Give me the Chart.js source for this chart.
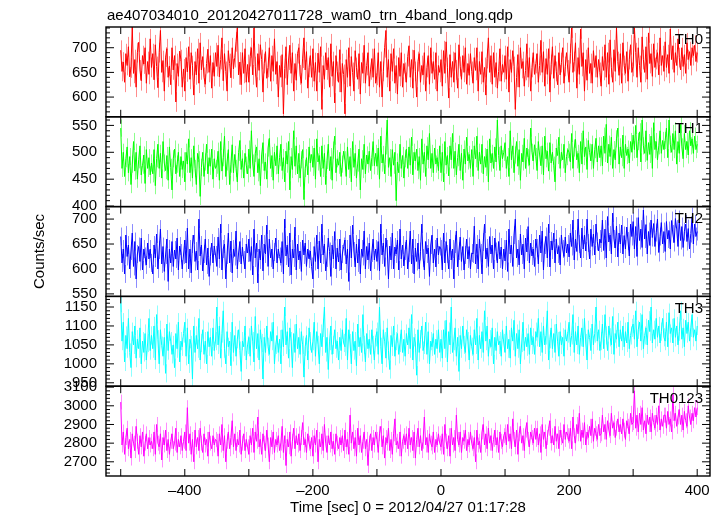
<!DOCTYPE html>
<html>
<head>
<meta charset="utf-8">
<script src="https://cdn.jsdelivr.net/npm/chart.js@4.4.1/dist/chart.umd.min.js"></script>
<style>
html, body { margin: 0; padding: 0; background: #fff; }
#wrap { width: 720px; height: 516px; }
</style>
</head>
<body>
<div id="wrap"><canvas id="lc" width="720" height="516"></canvas></div>
<script>
var titleText = 'ae407034010_20120427011728_wam0_trn_4band_long.qdp';
var xLabel = 'Time [sec] 0 = 2012/04/27 01:17:28';
var yLabel = 'Counts/sec';
var bandNames = ['TH0', 'TH1', 'TH2', 'TH3', 'TH0123'];
var bandColors = ['255,0,0', '0,255,0', '0,0,255', '0,255,255', '255,0,255'];
var bandErrs = [20, 16, 18, 24, 40];
var tStart = -500, tStop = 400;
var xMin = -523, xMax = 420;
var xTickStep = 200;
var yMins = [560, 399, 545, 941, 2624];
var yMaxs = [742, 566, 725, 1178, 3105];
var yMajor = [50, 50, 50, 50, 100];
var yMinor = [10, 10, 10, 10, 20];

// count rates, 2 s bins from -500 to 400 s (one row = 50 s)
var th0 = [
  695,652,671,630,688,664,702,641,659,742,648,676,620,690,711,655,633,684,667,700,628,672,646,718,660,
  688,635,706,662,619,690,735,650,674,612,681,698,640,663,625,700,655,684,590,668,642,693,676,620,657,
  612,680,651,702,636,690,664,604,672,645,698,628,710,655,682,640,626,668,697,650,684,618,670,642,690,
  662,705,641,676,720,633,688,652,612,694,668,639,700,657,680,712,740,645,671,625,690,648,698,630,666,
  630,682,700,645,740,662,620,688,654,706,676,610,668,692,638,660,700,632,684,652,718,646,672,600,664,
  640,686,566,658,702,625,675,705,648,690,612,668,634,688,700,645,628,679,720,655,692,618,660,684,640,
  698,632,670,612,689,650,702,575,664,636,690,655,680,620,708,642,672,588,684,652,630,696,610,668,646,
  566,676,640,700,622,682,650,612,694,660,636,688,606,670,648,705,628,664,690,622,655,678,640,698,628,
  644,690,620,672,600,652,700,735,640,676,612,688,652,698,628,664,606,680,642,690,620,668,650,630,682,
  704,640,676,618,695,652,600,672,688,630,664,645,690,612,660,684,626,700,648,672,636,690,612,664,650,
  676,622,694,648,712,660,598,686,640,672,630,690,655,618,706,662,636,684,650,700,626,668,644,688,652,
  628,680,654,700,612,672,646,692,630,660,604,678,720,650,684,626,690,640,670,618,652,698,632,666,650,
  684,636,702,610,676,650,694,662,575,640,686,620,700,658,672,622,654,708,640,680,612,660,690,646,668,
  688,630,664,715,650,692,622,678,646,698,610,666,702,638,684,652,625,690,645,670,700,628,662,690,655,
  630,688,740,650,672,710,618,680,646,738,662,690,612,676,634,700,648,668,628,694,660,684,640,676,650,
  622,682,654,706,640,690,626,716,660,630,696,652,740,672,644,688,628,710,664,648,692,632,676,706,650,
  662,740,690,640,700,664,630,722,676,650,702,636,730,668,688,642,708,660,676,690,645,720,664,684,652,
  712,660,686,648,738,676,704,650,690,664,718,680,655,700,662,686,648,710,676,692,664,700,684,705,672,
  690
];
var th1 = [
  545,470,500,455,488,510,462,492,440,478,520,465,500,450,486,512,458,476,495,442,505,470,490,458,480,
  460,505,438,488,515,470,498,452,520,480,466,494,448,510,472,430,488,506,460,478,500,455,492,468,484,
  445,500,478,525,462,490,452,512,470,440,498,486,418,472,500,455,482,515,460,490,474,506,450,488,470,
  476,502,448,520,465,490,530,455,482,505,440,478,514,462,496,470,445,500,522,468,488,452,498,476,460,
  506,470,540,480,455,498,510,462,488,438,495,518,466,482,450,508,526,470,494,448,500,475,512,460,490,
  515,466,490,445,502,478,520,430,492,468,540,474,512,460,498,452,486,505,412,470,490,458,510,480,496,
  472,508,450,525,482,494,455,512,470,498,440,485,515,466,492,448,504,530,462,488,476,500,455,478,502,
  486,455,510,468,492,445,520,472,498,452,480,506,430,488,468,515,460,495,478,502,466,490,520,475,498,
  474,508,450,530,480,496,460,512,560,472,490,455,505,476,500,410,482,462,515,470,494,452,488,506,470,
  510,476,528,458,500,484,506,466,492,448,525,478,500,455,512,486,535,470,498,462,508,478,490,466,512,
  462,500,445,520,476,494,456,512,486,535,470,502,458,490,515,466,498,448,506,478,528,484,496,470,505,
  455,512,488,530,466,500,478,515,460,492,472,506,445,525,480,498,470,510,482,560,494,466,512,488,500,
  518,470,492,455,540,486,512,462,495,520,474,505,448,498,482,526,470,508,490,476,545,500,484,514,492,
  466,520,495,475,512,458,530,488,502,465,518,480,500,476,445,508,494,528,470,500,486,515,462,492,505,
  500,482,535,470,508,524,486,498,462,520,478,540,492,510,468,522,500,484,515,470,505,526,482,512,490,
  512,475,530,498,552,480,515,492,528,470,505,486,525,545,478,510,490,532,470,515,494,506,480,520,500,
  532,505,550,490,520,538,482,560,512,498,540,485,518,496,530,470,555,505,520,486,512,540,498,522,505,
  522,545,490,560,515,500,535,505,540,478,520,498,552,510,488,535,505,520,495,540,512,525,498,530,505,
  515
];
var th2 = [
  665,612,640,590,668,625,648,600,636,672,605,655,580,630,645,615,662,598,640,625,608,652,620,640,612,
  590,648,622,670,600,638,680,610,645,595,628,660,575,640,612,655,605,638,620,662,598,646,632,600,628,
  658,612,682,600,640,592,650,668,615,636,598,700,626,648,596,630,660,608,642,585,625,652,612,646,628,
  605,664,620,690,598,640,650,580,628,672,612,656,592,640,625,676,600,632,655,610,644,618,600,650,632,
  660,615,645,588,680,622,652,572,640,618,668,596,650,630,688,605,660,622,640,600,634,662,612,640,625,
  612,655,590,700,626,648,604,672,588,640,622,684,598,650,618,636,595,658,628,652,605,640,620,636,605,
  580,645,615,668,600,656,612,690,628,650,596,622,662,635,585,648,620,675,600,642,614,660,598,630,645,
  658,610,640,575,668,622,688,636,604,650,612,660,590,640,625,676,600,645,618,652,596,632,660,618,640,
  615,655,596,690,628,652,605,662,640,580,646,618,672,600,644,630,658,598,680,620,648,606,636,658,600,
  632,676,610,660,590,642,615,652,600,635,690,622,598,655,630,642,585,648,668,612,640,604,662,628,645,
  640,598,672,612,655,630,600,660,618,640,580,650,676,604,636,664,615,645,598,628,660,620,645,600,632,
  630,686,610,650,600,660,632,590,654,690,620,642,605,665,630,648,600,662,635,612,655,620,644,600,640,
  616,658,595,680,630,648,605,668,700,622,640,608,670,628,650,600,662,634,685,612,652,626,640,605,660,
  642,610,668,632,676,598,648,665,622,690,604,656,638,672,612,660,630,645,608,668,640,625,664,632,650,
  624,672,645,698,618,660,635,700,650,622,682,640,668,636,700,652,620,680,645,670,628,690,655,636,660,
  652,698,637,680,622,705,654,668,630,712,660,642,686,624,672,650,688,630,667,640,684,656,626,690,665,
  695,640,685,625,703,657,680,643,718,660,689,630,675,647,698,663,691,645,673,700,633,665,693,650,675,
  635,695,660,677,640,697,670,653,701,680,645,699,657,685,643,675,690,655,681,640,671,705,650,690,665,
  675
];
var th3 = [
  1160,1060,1110,1005,1075,1040,1120,1030,990,1085,1050,1100,1015,1065,1040,1095,1000,1060,1030,1080,1010,1055,1120,1035,1075,
  1040,1100,1010,1130,1065,1000,1090,1048,1020,1070,975,1105,1035,1085,1060,1025,1050,990,1080,1040,1110,1005,1060,1045,1080,
  1110,1020,1095,1000,1065,1050,960,1100,1030,1075,1040,1120,1010,1055,1090,1025,1060,1000,1085,1045,1070,1020,1095,1035,1060,
  1150,1050,1100,1015,1080,1140,1040,1000,1085,1045,1060,995,1110,1030,1075,1020,1065,1090,1035,980,1060,1045,1100,1010,1050,
  1070,1020,1100,1060,1005,1125,1040,1080,1010,1090,1055,960,1070,1030,1100,1045,1025,1085,1060,1110,1000,1050,1075,1030,1065,
  1000,1090,1045,1150,1050,1085,1015,1095,1060,990,1080,1030,1105,1040,1070,1025,1085,1050,965,1045,1075,1010,1095,1060,1030,
  1060,1110,1020,1085,1050,1000,1080,1045,1095,1150,1030,1070,985,1060,1100,1025,1050,1090,1040,1060,1010,1070,1035,1090,1055,
  1045,1120,1010,1090,1055,1000,1085,1035,1060,995,1105,1045,1070,1030,1130,1050,1005,1080,1040,1065,1025,1090,1050,1010,1070,
  1085,1025,1150,1045,1000,1090,1060,1015,1095,1035,985,1075,1045,1100,1020,1060,1080,1025,1055,1090,1030,1065,1020,1080,1050,
  1095,1040,1130,1010,1070,1055,970,1090,1030,1065,1100,1035,1050,1110,1025,1085,1000,1060,1045,1080,1025,1065,1040,1090,1030,
  1065,1015,1090,1040,1115,1005,1085,1050,1150,1030,1060,1095,1020,1070,980,1075,1040,1100,1050,1030,1090,1060,1010,1075,1045,
  1025,1090,1050,1120,1010,1075,1040,1085,1030,1140,1060,1100,1020,1065,1045,1095,1000,1070,1035,1085,1050,1060,1020,1090,1055,
  1030,1100,1040,1065,1015,1095,1060,1115,1020,1080,1040,1090,1000,1055,1110,1035,1070,1045,1080,1025,1095,1050,1070,1025,1085,
  1070,1120,1045,1085,1030,1100,1050,1075,1140,1010,1065,1095,1040,1080,1030,1105,1060,1020,1085,1050,1070,1020,1090,1060,1080,
  1110,1045,1075,1130,1030,1085,1050,1100,1025,1070,1095,1045,1120,1055,1010,1090,1070,1035,1105,1050,1080,1150,1060,1090,1035,
  1060,1105,1040,1130,1075,1035,1100,1070,1050,1125,1025,1080,1065,1110,1045,1090,1060,1100,1045,1085,1055,1110,1040,1075,1095,
  1105,1065,1140,1045,1090,1110,1060,1130,1040,1075,1095,1050,1115,1085,1150,1055,1090,1065,1120,1070,1100,1055,1085,1120,1070,
  1060,1110,1045,1135,1080,1095,1055,1120,1070,1100,1050,1085,1140,1065,1095,1045,1115,1080,1110,1060,1095,1130,1070,1090,1060,
  1100
];
var th0123 = [
  3020,2790,2860,2740,2830,2880,2770,2820,2720,2850,2800,2760,2890,2810,2740,2840,2780,2860,2730,2800,2850,2770,2830,2790,2810,
  2770,2860,2740,2900,2800,2780,2850,2710,2830,2790,2870,2760,2820,2740,2810,2850,2770,2800,2880,2750,2820,2780,2840,2760,2810,
  2860,2760,2990,2800,2850,2740,2820,2700,2870,2780,2830,2760,2880,2800,2750,2850,2790,2820,2730,2860,2800,2770,2840,2790,2820,
  2810,2730,2850,2790,2900,2760,2840,2700,2810,2860,2770,2830,2920,2780,2850,2760,2820,2790,2870,2740,2800,2850,2760,2820,2780,
  2740,2840,2790,2880,2750,2860,2810,2940,2780,2820,2740,2850,2800,2760,2870,2790,2700,2830,2780,2860,2750,2820,2790,2840,2760,
  2800,2890,2750,2840,2680,2820,2780,2860,2730,2810,2880,2770,2840,2790,2850,2760,2830,2910,2790,2820,2750,2850,2800,2770,2830,
  2730,2840,2790,2870,2700,2820,2780,2850,2760,2900,2800,2750,2840,2790,2860,2770,2810,2740,2850,2800,2770,2830,2790,2840,2760,
  2870,2780,2820,2740,2950,2800,2860,2770,2830,2730,2880,2790,2840,2750,2810,2860,2770,2820,2680,2800,2850,2760,2830,2790,2860,
  2820,2750,2850,2890,2780,2840,2720,2830,2800,2880,2760,2820,2740,2850,2930,2790,2810,2770,2860,2730,2810,2840,2790,2850,2770,
  2880,2790,2830,2760,2860,2720,2820,2880,2780,2840,2760,2810,2940,2790,2830,2750,2850,2800,2780,2860,2750,2820,2790,2850,2800,
  2780,2850,2740,2900,2810,2770,2840,2730,2880,2790,2830,2760,2950,2820,2790,2860,2750,2830,2810,2870,2760,2820,2790,2860,2800,
  2770,2830,2700,2870,2790,2810,2750,2860,2900,2790,2850,2770,2880,2800,2840,2760,2820,2870,2790,2830,2750,2860,2810,2780,2840,
  2860,2790,2900,2810,2850,2770,2930,2820,2780,2870,2740,2850,2890,2800,2840,2760,2870,2910,2820,2780,2860,2830,2800,2880,2820,
  2880,2790,2850,2750,2900,2820,2860,2770,2830,2880,2920,2800,2840,2790,2890,2810,2850,2770,2870,2830,2800,2900,2820,2860,2840,
  2810,2880,2770,2940,2840,2800,2900,2850,2960,2810,2870,2830,2910,2790,2860,2830,2890,2840,2930,2810,2880,2850,2820,2900,2840,
  2850,2950,2860,2900,2820,2920,2870,2840,2960,2880,2910,2830,2880,2930,2860,2900,2850,2930,2870,2820,2920,2890,2850,2960,2900,
  2910,3080,2880,2950,2860,2960,2900,2990,2870,2920,2850,2950,2900,2940,2860,2960,2910,2880,2950,2900,3000,2870,2930,2890,2950,
  2950,2880,2970,2900,2930,2860,3060,2920,2960,2890,2940,2980,2900,2950,2870,2970,2920,2890,3000,2940,2900,2960,2920,2990,2940,
  2990
];
var bandRates = [th0, th1, th2, th3, th0123];

function toPoints(vals) {
    var n = vals.length;
    return vals.map(function (v, i) {
        return { x: tStart + i * (tStop - tStart) / (n - 1), y: v };
    });
}

var FONT = '"Liberation Sans", Arial, Helvetica, sans-serif';

var datasets = [];
var scales = {
    x: {
        type: 'linear',
        position: 'bottom',
        min: xMin,
        max: xMax,
        grid: { display: false, drawTicks: false },
        border: { display: false },
        ticks: {
            stepSize: xTickStep,
            includeBounds: false,
            autoSkip: false,
            padding: 6,
            color: '#000',
            font: { family: FONT, size: 15 },
            maxRotation: 0,
            callback: function (v) { return v < 0 ? '\u2013' + Math.abs(v) : String(v); }
        },
        afterFit: function (s) { s.height = 40; }
    }
};

for (var k = 0; k < bandNames.length; k++) {
    datasets.push({
        label: bandNames[k],
        data: toPoints(bandRates[k]),
        yAxisID: 'y' + k,
        borderColor: 'rgb(' + bandColors[k] + ')',
        borderWidth: 1,
        pointRadius: 0,
        tension: 0
    });
    scales['y' + k] = {
        type: 'linear',
        position: 'left',
        stack: 'panels',
        stackWeight: 1,
        weight: bandNames.length - k,
        min: yMins[k],
        max: yMaxs[k],
        grid: { display: false, drawTicks: false },
        border: { display: false },
        ticks: {
            stepSize: yMajor[k],
            includeBounds: false,
            autoSkip: false,
            padding: 9,
            color: '#000',
            font: { family: FONT, size: 15 },
            callback: function (v) { return String(v); }
        },
        afterFit: function (s) { s.width = 106; }
    };
}

// light vertical error bars under each light curve
var errorBarPlugin = {
    id: 'errbars',
    beforeDatasetsDraw: function (chart) {
        var ctx = chart.ctx, area = chart.chartArea, xs = chart.scales.x;
        for (var k = 0; k < bandNames.length; k++) {
            var ys = chart.scales['y' + k];
            var pts = chart.data.datasets[k].data;
            ctx.save();
            ctx.beginPath();
            ctx.rect(area.left, ys.top, area.right - area.left, ys.bottom - ys.top);
            ctx.clip();
            ctx.strokeStyle = 'rgba(' + bandColors[k] + ',0.45)';
            ctx.lineWidth = 1;
            ctx.beginPath();
            for (var i = 0; i < pts.length; i++) {
                var px = Math.round(xs.getPixelForValue(pts[i].x)) + 0.5;
                ctx.moveTo(px, ys.getPixelForValue(pts[i].y + bandErrs[k]));
                ctx.lineTo(px, ys.getPixelForValue(pts[i].y - bandErrs[k]));
            }
            ctx.stroke();
            ctx.restore();
        }
    }
};

var framePlugin = {
    id: 'frames',
    afterDatasetsDraw: function (chart) {
        var ctx = chart.ctx, area = chart.chartArea, xs = chart.scales.x;
        ctx.save();
        ctx.strokeStyle = '#000';
        for (var k = 0; k < bandNames.length; k++) {
            var ys = chart.scales['y' + k];
            var top = ys.top, bot = ys.bottom;
            ctx.lineWidth = 1.4;
            ctx.strokeRect(area.left, top, area.right - area.left, bot - top);
            ctx.beginPath();
            ctx.lineWidth = 1;
            for (var t = tStart; t <= tStop; t += 100) {
                var px = xs.getPixelForValue(t);
                ctx.moveTo(px, top); ctx.lineTo(px, top + 7);
                ctx.moveTo(px, bot); ctx.lineTo(px, bot - 7);
            }
            var v0 = Math.ceil(yMins[k] / yMinor[k]) * yMinor[k];
            for (var v = v0; v <= yMaxs[k]; v += yMinor[k]) {
                var py = ys.getPixelForValue(v);
                var len = (v % yMajor[k] === 0) ? 8 : 4;
                ctx.moveTo(area.left, py); ctx.lineTo(area.left + len, py);
                ctx.moveTo(area.right, py); ctx.lineTo(area.right - len, py);
            }
            ctx.stroke();

            ctx.fillStyle = '#000';
            ctx.font = '15px ' + FONT;
            ctx.textAlign = 'right';
            ctx.textBaseline = 'alphabetic';
            ctx.fillText(bandNames[k], area.right - 7, top + 16.5);
        }
        ctx.fillStyle = '#000';
        ctx.font = '15px ' + FONT;
        ctx.textAlign = 'left';
        ctx.textBaseline = 'alphabetic';
        ctx.fillText(titleText, 107, 20);
        ctx.textAlign = 'center';
        ctx.fillText(xLabel, (area.left + area.right) / 2, 512);
        ctx.translate(40, (area.top + area.bottom) / 2);
        ctx.rotate(-Math.PI / 2);
        ctx.textBaseline = 'middle';
        ctx.fillText(yLabel, 0, 0);
        ctx.restore();
    }
};

new Chart(document.getElementById('lc').getContext('2d'), {
    type: 'line',
    data: { datasets: datasets },
    options: {
        responsive: false,
        animation: false,
        devicePixelRatio: 1,
        layout: { padding: { top: 27, right: 10, left: 0, bottom: 0 } },
        plugins: { legend: { display: false }, tooltip: { enabled: false }, title: { display: false } },
        scales: scales
    },
    plugins: [errorBarPlugin, framePlugin]
});
</script>
</body>
</html>
